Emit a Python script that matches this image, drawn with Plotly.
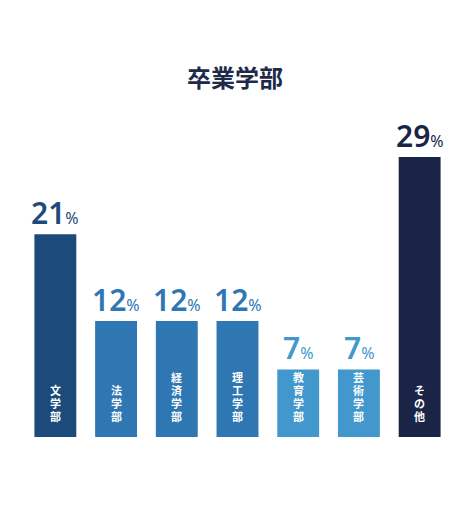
import plotly.graph_objects as go

# 卒業学部の割合 (%)
faculties = ["文学部", "法学部", "経済学部", "理工学部", "教育学部", "芸術学部", "その他"]
shares = [21, 12, 12, 12, 7, 7, 29]
bar_colors = ["#1c4a7b", "#2e77b3", "#2e77b3", "#2e77b3", "#4298cc", "#4298cc", "#1a2447"]

title_text = "卒業学部"

fig = go.Figure()

fig.add_trace(go.Bar(
    x=faculties,
    y=shares,
    marker=dict(color=bar_colors, line=dict(width=0)),
    width=0.69,
    hoverinfo="skip",
    showlegend=False,
))

# value labels above each bar: large number + small thin %
for name, val, col in zip(faculties, shares, bar_colors):
    fig.add_annotation(
        x=name, y=val,
        xref="x", yref="y",
        text=f"{val}<span style='font-size:16px;font-weight:400'>%</span>",
        showarrow=False,
        yanchor="bottom",
        yshift=-1,
        font=dict(family="Noto Sans, Roboto, sans-serif", size=30, color=col, weight=600),
    )

# vertical category labels inside bars, one char each, stacked up from the bottom
for name in faculties:
    for i, ch in enumerate(reversed(name)):
        fig.add_annotation(
            x=name, y=0,
            xref="x", yref="y",
            text=ch,
            showarrow=False,
            yanchor="middle",
            yshift=21 + i * 13,
            font=dict(family="Noto Sans CJK JP", size=11, color="white", weight=700),
        )

# page body has an 8px margin, so the figure is a bit smaller than the window
fig.update_layout(
    width=454, height=524,
    margin=dict(l=17, r=12, t=91, b=95),
    paper_bgcolor="white",
    plot_bgcolor="white",
    title=dict(
        text=f"<b>{title_text}</b>",
        x=0.5, xanchor="center",
        y=0.866, yanchor="middle",
        font=dict(family="Noto Sans CJK JP", size=24, color="#1d2a4a"),
    ),
    xaxis=dict(visible=False, range=[-0.5, 6.5]),
    yaxis=dict(visible=False, range=[0, 35]),
    bargap=0.31,
)

fig.write_html("out.html")
